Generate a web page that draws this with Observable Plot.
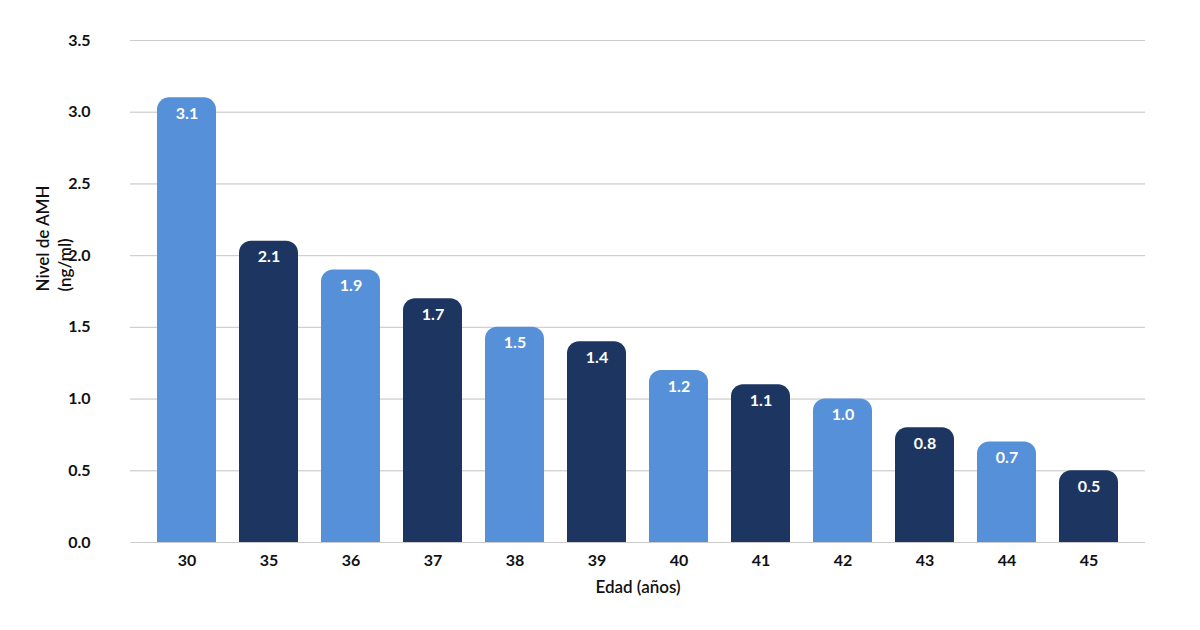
<!DOCTYPE html>
<html><head><meta charset="utf-8">
<script src="https://cdn.jsdelivr.net/npm/d3@7"></script>
<script src="https://cdn.jsdelivr.net/npm/@observablehq/plot@0.6"></script>
<style>body{margin:0;background:#fff;font-family:Lato,sans-serif}</style>
</head><body><div id="c"></div>
<script>
const ages = ["30","35","36","37","38","39","40","41","42","43","44","45"];
const values = [3.1,2.1,1.9,1.7,1.5,1.4,1.2,1.1,1.0,0.8,0.7,0.5];
const yTicks = [0,0.5,1,1.5,2,2.5,3,3.5];
const colors = ["#5590d9","#1c3661"];
const data = ages.map((a,i)=>({age:a, v:values[i], c:colors[i%2]}));
const chart = Plot.plot({
  width:1200, height:630, marginLeft:130, marginRight:55, marginTop:40, marginBottom:88,
  style:{fontFamily:"Lato, sans-serif", fontSize:"16px", fontWeight:"700", color:"#111"},
  x:{domain:ages, padding:0.28, label:null, tickSize:0, tickPadding:12},
  y:{domain:[0,3.5], ticks:yTicks, tickFormat:d3.format(".1f"), label:null, tickSize:0, tickPadding:40, grid:true},
  marks:[
    Plot.gridY(yTicks,{stroke:"#ccc", strokeOpacity:1}),
    Plot.barY(data,{x:"age", y:"v", fill:"c", rx:12}),
    Plot.barY(data,{x:"age", y1:0, y2:d=>Math.min(d.v,0.15), fill:"c"}),
    Plot.text(data,{x:"age", y:"v", text:d=>d.v.toFixed(1), fill:"white", dy:16, fontSize:16, fontWeight:700}),
    Plot.text(["Nivel de AMH\n(ng/ml)"],{frameAnchor:"left", rotate:-90, dx:-78, fontSize:17, fontWeight:600, lineHeight:1.3}),
    Plot.text(["Edad (años)"],{frameAnchor:"bottom", dy:50, fontSize:17, fontWeight:600})
  ]
});
document.getElementById("c").append(chart);
</script></body></html>
